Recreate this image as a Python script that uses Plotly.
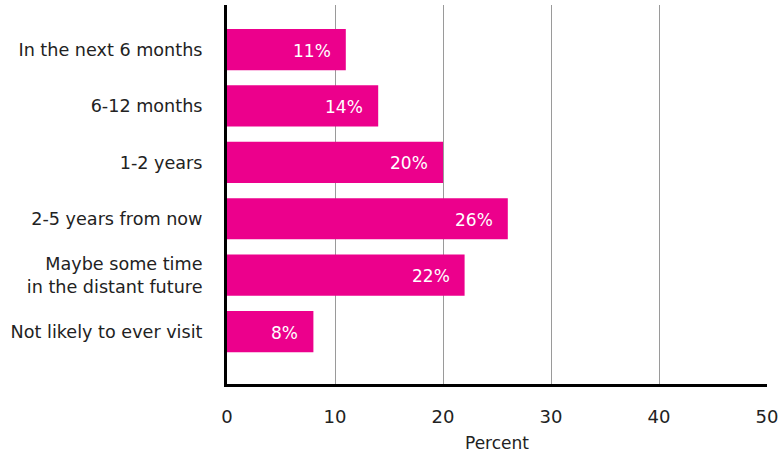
import plotly.graph_objects as go

categories = [
    "In the next 6 months",
    "6-12 months",
    "1-2 years",
    "2-5 years from now",
    "Maybe some time<br>in the distant future",
    "Not likely to ever visit",
]
values = [11, 14, 20, 26, 22, 8]
labels = [f"{v}%" for v in values]
x_ticks = [0, 10, 20, 30, 40, 50]

FONT = "DejaVu Sans, Noto Sans, sans-serif"
BAR_COLOR = "#EC008C"
TEXT_COLOR = "#222222"

fig = go.Figure(
    go.Bar(
        x=values,
        y=categories,
        orientation="h",
        marker=dict(color=BAR_COLOR, line=dict(width=0)),
        width=0.73,
        hoverinfo="skip",
    )
)

# value labels, right-aligned just inside the end of each bar
for cat, val, lab in zip(categories, values, labels):
    fig.add_annotation(
        x=val,
        y=cat,
        text=lab,
        xanchor="right",
        yanchor="middle",
        xshift=-13,
        yshift=-1,
        showarrow=False,
        font=dict(color="white", size=17, family=FONT),
    )

fig.update_layout(
    width=782,
    height=456,
    margin=dict(l=227, r=15, t=5, b=72),
    paper_bgcolor="white",
    plot_bgcolor="white",
    showlegend=False,
    font=dict(family=FONT, color=TEXT_COLOR, size=17),
    xaxis=dict(
        range=[0, 50],
        tickvals=x_ticks,
        showgrid=True,
        gridcolor="#9a9a9a",
        gridwidth=1,
        zeroline=False,
        showline=True,
        linecolor="black",
        linewidth=3,
        ticks="",
        ticklabelstandoff=14,
        tickfont=dict(size=18, color=TEXT_COLOR),
        title=dict(text="Percent", font=dict(size=17, color=TEXT_COLOR), standoff=12),
        fixedrange=True,
    ),
    yaxis=dict(
        type="category",
        categoryorder="array",
        categoryarray=categories,
        range=[5.93, -0.79],
        showgrid=False,
        zeroline=False,
        showline=True,
        linecolor="black",
        linewidth=3,
        ticks="",
        ticklabelstandoff=18,
        tickfont=dict(size=17.6, color=TEXT_COLOR),
        fixedrange=True,
    ),
)

fig.write_html("out.html")
